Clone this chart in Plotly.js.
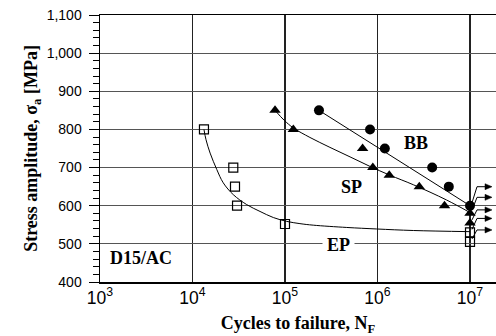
<!DOCTYPE html>
<html>
<head>
<meta charset="utf-8">
<script src="https://cdn.plot.ly/plotly-3.0.1.min.js"></script>
<style>
  html, body { margin: 0; padding: 0; background: #fff; }
  #chart { width: 496px; height: 336px; }
</style>
</head>
<body>
<div id="chart"></div>
<script>
// S-N test results for D15/AC: cycles to failure and stress amplitude [MPa]
const epCycles = [1.33e4, 2.76e4, 2.88e4, 3.03e4, 1.0e5, 1e7, 1e7];
const epStress = [800, 700, 650, 600, 552, 530, 505];

const spCycles = [7.8e4, 1.23e5, 6.9e5, 8.9e5, 1.34e6, 2.83e6, 5.3e6, 1e7, 1e7];
const spStress = [850, 800, 750, 700, 680, 650, 600, 580, 555];

const bbCycles = [2.33e5, 8.3e5, 1.2e6, 3.9e6, 5.9e6, 1e7];
const bbStress = [850, 800, 750, 700, 650, 600];

// Fitted S-N curves
const epCurveCycles = [1.33e4, 1.40e4, 1.55e4, 1.83e4, 2.15e4, 2.76e4, 3.85e4, 5.37e4, 7.48e4, 1.04e5, 1.45e5, 2.02e5, 4.65e5, 9.8e5, 2.44e6, 1e7];
const epCurveStress = [800, 773, 738, 695, 660, 629, 603, 585, 569, 559, 553, 549, 543, 539, 535, 532];

const spCurveCycles = [7.8e4, 9.8e4, 1.23e5, 1.86e5, 3.06e5, 5.05e5, 8.3e5, 1.36e6, 2.44e6, 5.58e6, 1e7];
const spCurveStress = [850, 824, 804, 779, 753, 728, 703, 680, 655, 615, 582];

const bbCurveCycles = [2.33e5, 1e7];
const bbCurveStress = [850, 600];

// Specimens that reached this many cycles without failing (run-outs)
const runoutLimit = 1e7;

// Curve labels
const seriesLabels = ['BB', 'SP', 'EP'];
const materialLabel = 'D15/AC';

const serif = 'Liberation Serif, Times New Roman, serif';
const sans = 'Liberation Sans, Arial, sans-serif';

const markerLine = { color: '#000', width: 1.2 };

const traces = [
  { x: epCurveCycles, y: epCurveStress, mode: 'lines', line: { color: '#000', width: 1, shape: 'spline', smoothing: 1 }, hoverinfo: 'skip' },
  { x: spCurveCycles, y: spCurveStress, mode: 'lines', line: { color: '#000', width: 1, shape: 'spline', smoothing: 1 }, hoverinfo: 'skip' },
  { x: bbCurveCycles, y: bbCurveStress, mode: 'lines', line: { color: '#000', width: 1 }, hoverinfo: 'skip' },
  { x: epCycles, y: epStress, mode: 'markers', name: 'EP',
    marker: { symbol: 'square-open', size: 9, color: '#000', line: markerLine } },
  { x: spCycles, y: spStress, mode: 'markers', name: 'SP',
    marker: { symbol: 'triangle-up', size: 10, color: '#000' } },
  { x: bbCycles, y: bbStress, mode: 'markers', name: 'BB',
    marker: { symbol: 'circle', size: 10, color: '#000' } }
];

// Run-out arrows, anchored at each run-out marker and sized in pixels:
// a short rising stroke, a horizontal stroke and a filled arrow head
const runouts = [];
[[bbCycles, bbStress], [spCycles, spStress], [epCycles, epStress]].forEach(([n, s]) => {
  n.forEach((v, i) => { if (v >= runoutLimit) runouts.push({ n: v, s: s[i] }); });
});
runouts.sort((a, b) => b.s - a.s);
const arrowRise = [19, 16, 13, 14, 12];

const shapes = [];
runouts.forEach((p, i) => {
  const r = arrowRise[i % arrowRise.length];
  const anchor = { xref: 'x', yref: 'y', xsizemode: 'pixel', ysizemode: 'pixel', xanchor: p.n, yanchor: p.s };
  shapes.push(Object.assign({}, anchor, {
    type: 'path', path: `M2,3 L7,${r} L17,${r}`, line: { color: '#000', width: 1 }
  }));
  shapes.push(Object.assign({}, anchor, {
    type: 'path', path: `M22,${r} L15,${r + 3} L15,${r - 3} Z`, fillcolor: '#000', line: { color: '#000', width: 0.5 }
  }));
});

const annotations = [];
const labelFont = { family: serif, size: 18, color: '#000', weight: 'bold' };
annotations.push({ x: 6.42, y: 765, xref: 'x', yref: 'y', text: seriesLabels[0], showarrow: false, font: labelFont });
annotations.push({ x: 5.714, y: 648, xref: 'x', yref: 'y', text: seriesLabels[1], showarrow: false, font: labelFont });
annotations.push({ x: 5.576, y: 496, xref: 'x', yref: 'y', text: seriesLabels[2], showarrow: false, font: labelFont,
                   bgcolor: '#fff', borderpad: 4 });
annotations.push({ x: 3.446, y: 463, xref: 'x', yref: 'y', text: materialLabel, showarrow: false, font: labelFont });

const layout = {
  width: 496, height: 336,
  margin: { l: 100, r: 0, t: 15, b: 54 },
  paper_bgcolor: '#fff', plot_bgcolor: '#fff',
  showlegend: false,
  font: { family: sans, color: '#000' },
  xaxis: {
    type: 'log', range: [3, 7.281], dtick: 1, tick0: 0,
    exponentformat: 'power', showexponent: 'all',
    ticks: '', showgrid: true, gridcolor: '#222', gridwidth: 1.2,
    showline: true, linecolor: '#000', linewidth: 1.5, mirror: true, zeroline: false,
    tickfont: { family: sans, size: 14, color: '#000' },
    title: { text: 'Cycles to failure, N<sub>F</sub>', standoff: 16,
             font: { family: serif, size: 18, color: '#000', weight: 'bold' } }
  },
  yaxis: {
    range: [400, 1100], dtick: 100, tick0: 0, tickformat: ',d',
    ticks: 'outside', ticklen: 10, tickwidth: 1, tickcolor: '#000', ticklabelstandoff: 4,
    minor: { dtick: 20, ticks: 'outside', ticklen: 6, tickwidth: 1, tickcolor: '#000', showgrid: false },
    showgrid: true, gridcolor: '#555', gridwidth: 1,
    showline: true, linecolor: '#000', linewidth: 1.5, zeroline: false,
    tickfont: { family: sans, size: 14, color: '#000' },
    title: { text: 'Stress amplitude, σ<sub>a</sub> [MPa]', standoff: 4,
             font: { family: serif, size: 18, color: '#000', weight: 'bold' } }
  },
  shapes: shapes,
  annotations: annotations
};

Plotly.newPlot('chart', traces, layout, { staticPlot: true, displayModeBar: false });
</script>
</body>
</html>
